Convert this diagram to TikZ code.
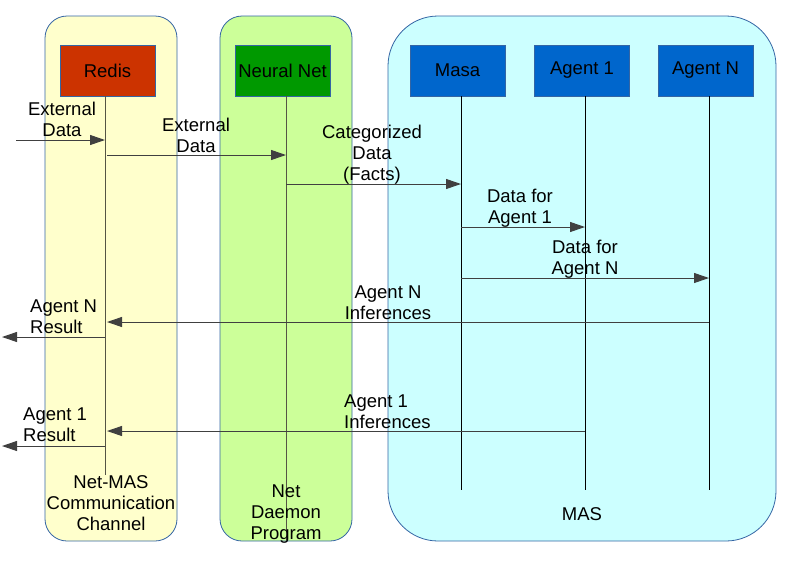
\documentclass[tikz,border=0pt]{standalone}
\usepackage{fontspec}
\setmainfont{Liberation Sans}
\usetikzlibrary{arrows.meta}
\definecolor{laneborder}{HTML}{3465A4}
\definecolor{laneyellow}{HTML}{FFFFCC}
\definecolor{lanegreen}{HTML}{CCFF99}
\definecolor{lanecyan}{HTML}{CCFFFF}
\definecolor{redisred}{HTML}{CC3300}
\definecolor{netgreen}{HTML}{009900}
\definecolor{masblue}{HTML}{0066CC}
\definecolor{lifegray}{HTML}{555544}
\begin{document}
\begin{tikzpicture}[x=1pt,y=-1pt,
  lane/.style={draw=laneborder, line width=0.8pt},
  actor/.style={draw=laneborder, line width=0.6pt, minimum width=95pt, minimum height=51pt, inner sep=0pt, font=\fontsize{18.5}{21}\selectfont},
  lbl/.style={inner sep=0pt, align=center, font=\fontsize{18.5}{21}\selectfont},
  lblL/.style={inner sep=0pt, align=left, font=\fontsize{18.5}{21}\selectfont},
  life/.style={draw=lifegray, line width=1pt},
  lifeb/.style={draw=black, line width=0.8pt},
  msg/.style={draw=black!75, line width=1pt, -{Triangle[length=15pt,width=10pt]}}
]
\useasboundingbox (0,0) rectangle (786,560);
% lanes
\draw[lane, fill=laneyellow, rounded corners=22pt] (45,16) rectangle (177,541);
\draw[lane, fill=lanegreen, rounded corners=22pt] (220,16) rectangle (352,541);
\draw[lane, fill=lanecyan, rounded corners=50pt] (388,16) rectangle (776,541);
% actors
\node[actor, fill=redisred] (redis) at (107.5,70.5) {Redis};
\node[actor, fill=netgreen] (nn) at (282.5,70.5) {Neural Net};
\node[actor, fill=masblue] (masa) at (457.5,70.5) {Masa};
\node[actor, fill=masblue] (ag1) at (582,70.5) {Agent 1};
\node[actor, fill=masblue] (agN) at (705.5,70.5) {Agent N};
% lifeline ends
\coordinate (redisEnd) at (105,475);
\coordinate (nnEnd) at (286,540);
\coordinate (masaEnd) at (461,490);
\coordinate (ag1End) at (585,490);
\coordinate (agNEnd) at (709,490);
\draw[life] (redisEnd |- redis.south) -- (redisEnd);
\draw[life] (nnEnd |- nn.south) -- (nnEnd);
\draw[lifeb] (masaEnd |- masa.south) -- (masaEnd);
\draw[lifeb] (ag1End |- ag1.south) -- (ag1End);
\draw[lifeb] (agNEnd |- agN.south) -- (agNEnd);
% bottom labels (drawn after lifelines)
\node[lbl] (lblNetMas) at (111,503) {Net-MAS\\Communication\\Channel};
\node[lbl] (lblDaemon) at (286,514) {Net\\Daemon\\Program};
\node[lbl] (lblMas) at (582,514) {MAS};
% free ends
\coordinate (extIn) at (16,140);
\coordinate (outN) at (2,337);
\coordinate (out1) at (2,446);
% messages
\draw[msg] (extIn) -- (redisEnd |- extIn);
\draw[msg] (107,155) -- (nnEnd |- 0,155);
\draw[msg] (nnEnd |- 0,184) -- (masaEnd |- 0,184);
\draw[msg] (masaEnd |- 0,227) -- (ag1End |- 0,227);
\draw[msg] (masaEnd |- 0,278) -- (agNEnd |- 0,278);
\draw[msg] (agNEnd |- 0,322) -- (107,322);
\draw[msg] (redisEnd |- outN) -- (outN);
\draw[msg] (ag1End |- 0,431) -- (107,431);
\draw[msg] (redisEnd |- out1) -- (out1);
% message labels
\node[lbl] (l1) at (62,119) {External\\Data};
\node[lbl] (l2) at (196,135) {External\\Data};
\node[lbl] (l3) at (372,155) {Categorized\\Data\\(Facts)};
\node[lbl] (l4) at (520,208) {Data for\\Agent 1};
\node[lbl] (l5) at (585,259) {Data for\\Agent N};
\node[lbl] (l6) at (388,303) {Agent N\\Inferences};
\node[lblL, anchor=west] (l7) at (30,317) {Agent N\\Result};
\node[lblL, anchor=west] (l8) at (344,412) {Agent 1\\Inferences};
\node[lblL, anchor=west] (l9) at (23,425) {Agent 1\\Result};
\end{tikzpicture}
\end{document}
